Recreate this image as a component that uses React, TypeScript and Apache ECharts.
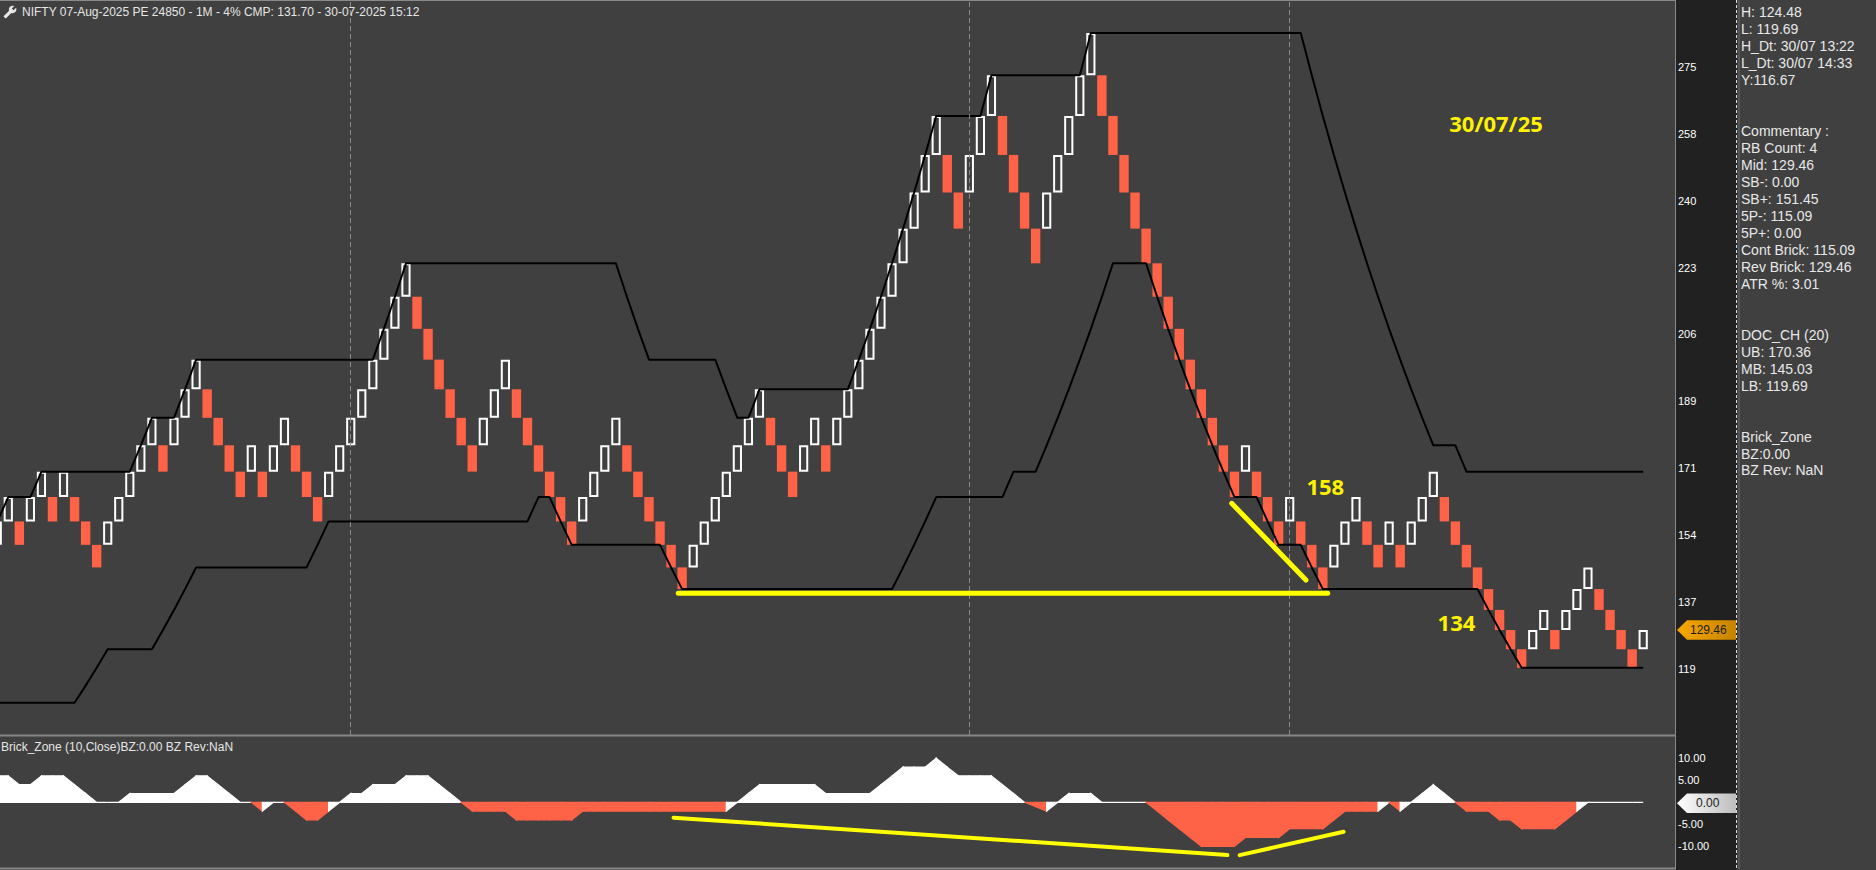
import React, { useEffect, useRef } from 'react';
import * as echarts from 'echarts';

// ---------------- data ----------------
// Renko price levels (4% bricks), from 110.66 up to 283.65
const priceLevels = [110.66, 115.09, 119.69, 124.48, 129.46, 134.64, 140.02, 145.62, 151.45, 157.5, 163.8, 170.36, 177.17, 184.26, 191.63, 199.29, 207.26, 215.55, 224.18, 233.14, 242.47, 252.17, 262.25, 272.75, 283.65];
// level index (into priceLevels) at which the first visible brick opens
const firstBrickOpen = 8;
// brick directions, U = white (up), D = red (down)
const brickDirs = (
  'UUDUUDUDDD' + 'UUUUUDUUUD' + 'DDDUDUUDDD' + 'UUUUUUUUDD' + 'DDDDUUUDDD' +
  'DDDUUUUDDD' + 'DDDUUUUUUU' + 'DDDUUDUUUU' + 'UUUUUUDDUU' + 'UDDDDUUUUU' +
  'DDDDDDDDDD' + 'DDDUDDDUDD' + 'DUUUDDUDUU' + 'UDDDDDDDDU' + 'UDUUUDDDDU'
).split('');
// DOC_CH (20) upper band, level index per brick
const upperBand = [
  9, 10, 10, 10, 11, 11, 11, 11, 11, 11,
  11, 11, 11, 12, 13, 13, 13, 14, 15, 15,
  15, 15, 15, 15, 15, 15, 15, 15, 15, 15,
  15, 15, 15, 15, 15, 16, 17, 18, 18, 18,
  18, 18, 18, 18, 18, 18, 18, 18, 18, 18,
  18, 18, 18, 18, 18, 18, 18, 17, 16, 15,
  15, 15, 15, 15, 15, 15, 14, 13, 13, 14,
  14, 14, 14, 14, 14, 14, 14, 14, 15, 16,
  17, 18, 19, 20, 21, 22, 22, 22, 22, 22,
  23, 23, 23, 23, 23, 23, 23, 23, 23, 24,
  24, 24, 24, 24, 24, 24, 24, 24, 24, 24,
  24, 24, 24, 24, 24, 24, 24, 24, 24, 23,
  22, 21, 20, 19, 18, 17, 16, 15, 14, 13,
  12, 12, 12, 11, 11, 11, 11, 11, 11, 11,
  11, 11, 11, 11, 11, 11, 11, 11, 11, 11,
];
// DOC_CH (20) lower band, level index per brick
const lowerBand = [
  0, 0, 0, 0, 0, 0, 0, 0, 1, 2,
  3, 3, 3, 3, 3, 4, 5, 6, 7, 7,
  7, 7, 7, 7, 7, 7, 7, 7, 7, 8,
  9, 9, 9, 9, 9, 9, 9, 9, 9, 9,
  9, 9, 9, 9, 9, 9, 9, 9, 9, 10,
  10, 9, 8, 8, 8, 8, 8, 8, 8, 8,
  8, 7, 6, 6, 6, 6, 6, 6, 6, 6,
  6, 6, 6, 6, 6, 6, 6, 6, 6, 6,
  6, 6, 7, 8, 9, 10, 10, 10, 10, 10,
  10, 10, 11, 11, 11, 12, 13, 14, 15, 16,
  17, 18, 18, 18, 18, 17, 16, 15, 14, 13,
  12, 11, 10, 10, 10, 9, 8, 8, 8, 7,
  6, 6, 6, 6, 6, 6, 6, 6, 6, 6,
  6, 6, 6, 6, 6, 5, 4, 3, 2, 2,
  2, 2, 2, 2, 2, 2, 2, 2, 2, 2,
];
// Brick_Zone (10, Close) per brick
const brickZone = [
  6, 6, 4, 4, 6, 6, 6, 4, 2, 0,
  0, 0, 2, 2, 2, 2, 2, 4, 6, 6,
  4, 2, 0, 0, -2, 0, 0, -2, -4, -4,
  -2, 0, 2, 2, 4, 4, 4, 6, 6, 6,
  4, 2, 0, -2, -2, -2, -2, -4, -4, -4,
  -4, -4, -4, -2, -2, -2, -2, -2, -2, -2,
  -2, -2, -2, -2, -2, -2, -2, 0, 2, 4,
  4, 4, 4, 4, 4, 2, 2, 2, 2, 2,
  4, 6, 8, 8, 8, 10, 8, 6, 6, 6,
  6, 4, 2, 0, -1, -2, 0, 2, 2, 2,
  0, 0, 0, 0, 0, -2, -4, -6, -8, -10,
  -10, -10, -10, -8, -8, -8, -8, -6, -6, -6,
  -6, -4, -2, -2, -2, -2, 0, -2, 0, 2,
  4, 2, 0, -2, -2, -2, -4, -4, -6, -6,
  -6, -6, -4, -2, 0, 0, 0, 0, 0, 0,
];
const daySeparators = [33, 89, 118];
const priceTicks = [119.45, 136.72, 153.99, 171.26, 188.53, 205.8, 223.07, 240.34, 257.61, 274.88];
const zoneTicks = [10, 5, -5, -10];
// hand-drawn yellow trend lines, [brick, value]
const mainTrendLines = [
  [[62.65, 138.93], [121.44, 138.93]],
  [[112.75, 162.18], [119.47, 142.36]],
];
const zoneTrendLines = [
  [[62.22, -3.5], [112.36, -12.0]],
  [[113.47, -12.0], [122.88, -6.7]],
];
const notes = [
  { text: '30/07/25', brick: 136.68, price: 260.35 },
  { text: '158', brick: 121.22, price: 166.65 },
  { text: '134', brick: 133.1, price: 131.44 },
];
const titleText = 'NIFTY 07-Aug-2025 PE 24850 - 1M - 4% CMP: 131.70 - 30-07-2025 15:12';
const zoneTitle = 'Brick_Zone (10,Close)BZ:0.00 BZ Rev:NaN';
const infoLines = [
  'H: 124.48', 'L: 119.69', 'H_Dt: 30/07 13:22', 'L_Dt: 30/07 14:33', 'Y:116.67', '', '',
  'Commentary :', 'RB Count: 4', 'Mid: 129.46', 'SB-: 0.00', 'SB+: 151.45', '5P-: 115.09', '5P+: 0.00',
  'Cont Brick: 115.09', 'Rev Brick: 129.46', 'ATR %: 3.01', '', '',
  'DOC_CH (20)', 'UB: 170.36', 'MB: 145.03', 'LB: 119.69', '', '',
  'Brick_Zone', 'BZ:0.00', 'BZ Rev: NaN',
];

// ---------------- shapes ----------------
const WRENCH_D = 'M22.7 19l-9.1-9.1c.9-2.3.4-5-1.5-6.9-2-2-5-2.4-7.4-1.3L9 6 6 9 1.6 4.7C.4 7.1.9 10.1 2.9 12.1c1.9 1.9 4.6 2.4 6.9 1.5l9.1 9.1c.4.4 1 .4 1.4 0l2.3-2.3c.5-.4.5-1.1.1-1.4z';
let wrenchRegistered = false;
function registerWrench() {
  if (wrenchRegistered) return;
  echarts.graphic.registerShape('wrench', echarts.graphic.extendPath(WRENCH_D, {}) as any);
  wrenchRegistered = true;
}

const RED = '#FF6347';
const FONT = '"Liberation Sans", Arial, sans-serif';
const X_MIN = 1.249;
const X_MAX = 152.88;

function buildBricks() {
  const out: number[][] = [];
  let pOpen = 0, pClose = 0, pDir = 0;
  brickDirs.forEach((ch, idx) => {
    const d = ch === 'U' ? 1 : -1;
    let o: number;
    if (idx === 0) o = firstBrickOpen;
    else if (d === pDir) o = pClose;
    else o = pOpen;
    const c = o + d;
    out.push([idx + 1, priceLevels[Math.max(o, c)], priceLevels[Math.min(o, c)], d]);
    pOpen = o; pClose = c; pDir = d;
  });
  return { bricks: out, lastClose: priceLevels[pClose] };
}

export default function App() {
  const ref = useRef<HTMLDivElement>(null);
  useEffect(() => {
    document.body.style.margin = '0';
    registerWrench();
    const chart = echarts.init(ref.current!, null, { renderer: 'svg' });
    const { bricks, lastClose } = buildBricks();

    const zoneSegs: number[][] = [];
    for (let i = 1; i < brickZone.length; i++) {
      zoneSegs.push([i, brickZone[i - 1], i + 1, brickZone[i]]);
    }

    const option: any = {
      animation: false,
      backgroundColor: '#404040',
      grid: [
        { left: 0, top: 0, width: 1675, height: 735 },
        { left: 0, top: 736, width: 1675, height: 132 },
      ],
      xAxis: [
        { type: 'value', gridIndex: 0, min: X_MIN, max: X_MAX, show: false },
        { type: 'value', gridIndex: 1, min: X_MIN, max: X_MAX, show: false },
      ],
      yAxis: [
        {
          type: 'value', gridIndex: 0, position: 'right', min: 102.33, max: 292.2,
          splitLine: { show: false }, axisLine: { show: false }, axisTick: { show: false },
          axisLabel: {
            customValues: priceTicks, formatter: (v: number) => String(Math.round(v)),
            color: '#ffffff', fontSize: 11, fontFamily: FONT, margin: 3,
          },
        },
        {
          type: 'value', gridIndex: 1, position: 'right', min: -14.93, max: 15.07,
          splitLine: { show: false }, axisLine: { show: false }, axisTick: { show: false },
          axisLabel: {
            customValues: zoneTicks, formatter: (v: number) => v.toFixed(2),
            color: '#ffffff', fontSize: 11, fontFamily: FONT, margin: 3,
          },
        },
      ],
      series: [
        {
          type: 'custom', name: 'bricks', xAxisIndex: 0, yAxisIndex: 0, clip: true, z: 3,
          encode: { x: 0, y: [1, 2] },
          data: bricks,
          renderItem: (_p: any, api: any) => {
            const i = api.value(0), top = api.value(1), bot = api.value(2), d = api.value(3);
            const a = api.coord([i, top]);
            const b = api.coord([i, bot]);
            if (d > 0) {
              return {
                type: 'rect',
                shape: { x: a[0] - 3.6, y: a[1] + 1, width: 7.2, height: b[1] - a[1] - 2 },
                style: { fill: 'rgba(0,0,0,0)', stroke: '#ffffff', lineWidth: 2 },
              };
            }
            return {
              type: 'rect',
              shape: { x: a[0] - 4.7, y: a[1], width: 9.4, height: b[1] - a[1] },
              style: { fill: RED },
            };
          },
        },
        {
          type: 'line', name: 'UB', xAxisIndex: 0, yAxisIndex: 0, z: 4, symbol: 'none', silent: true,
          data: upperBand.map((k, idx) => [idx + 1, priceLevels[k]]),
          lineStyle: { color: '#000000', width: 2 },
          markLine: {
            silent: true, symbol: ['none', 'none'], label: { show: false },
            lineStyle: { color: '#8a8a8a', width: 1, type: [5, 3] },
            data: daySeparators.map((x) => ({ xAxis: x })),
          },
        },
        {
          type: 'line', name: 'LB', xAxisIndex: 0, yAxisIndex: 0, z: 4, symbol: 'none', silent: true,
          data: lowerBand.map((k, idx) => [idx + 1, priceLevels[k]]),
          lineStyle: { color: '#000000', width: 2 },
        },
        ...mainTrendLines.map((seg) => ({
          type: 'line', xAxisIndex: 0, yAxisIndex: 0, z: 6, symbol: 'none', silent: true,
          data: seg, lineStyle: { color: '#FFFF00', width: 5, cap: 'round' },
        })),
        {
          type: 'custom', name: 'zone', xAxisIndex: 1, yAxisIndex: 1, clip: true, z: 3,
          encode: { x: [0, 2], y: [1, 3] },
          data: zoneSegs,
          renderItem: (_p: any, api: any) => {
            const x0 = api.value(0), v0 = api.value(1), x1 = api.value(2), v1 = api.value(3);
            const a = api.coord([x0, v0]);
            const b = api.coord([x1, v1]);
            const c = api.coord([x1, 0]);
            const d = api.coord([x0, 0]);
            const col = v1 >= 0 ? '#ffffff' : RED;
            return {
              type: 'polygon',
              shape: { points: [a, b, c, d] },
              style: { fill: col, stroke: col, lineWidth: 1.2 },
            };
          },
        },
        ...zoneTrendLines.map((seg) => ({
          type: 'line', xAxisIndex: 1, yAxisIndex: 1, z: 6, symbol: 'none', silent: true,
          data: seg, lineStyle: { color: '#FFFF00', width: 4, cap: 'round' },
        })),
      ],
    };
    chart.setOption(option);

    const tagY = chart.convertToPixel({ yAxisIndex: 0 } as any, lastClose) as number;
    const zeroY = chart.convertToPixel({ yAxisIndex: 1 } as any, 0) as number;
    const notePx = notes.map((n) => chart.convertToPixel({ gridIndex: 0 } as any, [n.brick, n.price]) as number[]);

    const tag = (y: number, c0: string, c1: string, label: string, tx: number) => ({
      type: 'group', z: 20,
      children: [
        {
          type: 'polygon',
          shape: { points: [[1677, y], [1687, y - 9.7], [1736, y - 9.7], [1736, y + 9.7], [1687, y + 9.7]] },
          style: { fill: new echarts.graphic.LinearGradient(0, 0, 1, 0, [{ offset: 0, color: c0 }, { offset: 1, color: c1 }]) },
        },
        { type: 'text', x: tx, y, style: { text: label, fill: '#1c1c1c', font: `12px ${FONT}`, verticalAlign: 'middle' } },
      ],
    });

    const graphics: any[] = [
      { type: 'rect', z: -1, shape: { x: 1676, y: 0, width: 61, height: 870 }, style: { fill: '#212121' } },
      { type: 'line', z: 1, shape: { x1: 0, y1: 0.5, x2: 1676, y2: 0.5 }, style: { stroke: '#8a8a8a', lineWidth: 1 } },
      { type: 'line', z: 1, shape: { x1: 1675.5, y1: 0, x2: 1675.5, y2: 869 }, style: { stroke: '#8a8a8a', lineWidth: 1 } },
      { type: 'line', z: 1, shape: { x1: 0, y1: 735.5, x2: 1676, y2: 735.5 }, style: { stroke: '#858585', lineWidth: 2 } },
      { type: 'line', z: 1, shape: { x1: 0, y1: 868.5, x2: 1676, y2: 868.5 }, style: { stroke: '#858585', lineWidth: 2 } },
      { type: 'line', z: 1, shape: { x1: 1736.5, y1: 0, x2: 1736.5, y2: 870 }, style: { stroke: '#dcdcdc', lineWidth: 1, lineDash: [3, 2] } },
      { type: 'line', z: 1, shape: { x1: 1739, y1: 0, x2: 1739, y2: 870 }, style: { stroke: '#6a6a6a', lineWidth: 1 } },
      { type: 'wrench', z: 10, x: 17, y: 5, scaleX: -0.58, scaleY: 0.58, style: { fill: '#e8e8e8' } },
      { type: 'text', z: 10, x: 22, y: 12, style: { text: titleText, fill: '#e6e6e6', font: `12px ${FONT}`, verticalAlign: 'middle' } },
      { type: 'text', z: 10, x: 1, y: 746.5, style: { text: zoneTitle, fill: '#e6e6e6', font: `12px ${FONT}`, verticalAlign: 'middle' } },
      ...infoLines.map((t, n) => (t ? {
        type: 'text', z: 10, x: 1741, y: 12.3 + n * 16.97,
        style: { text: t, fill: '#e8e8e8', font: `14px ${FONT}`, verticalAlign: 'middle' },
      } : null)).filter(Boolean),
      ...notes.map((n, k) => ({
        type: 'text', z: 12, x: notePx[k][0], y: notePx[k][1],
        style: { text: n.text, fill: '#FFF200', font: `bold 22px "Open Sans", ${FONT}`, align: 'center', verticalAlign: 'middle' },
      })),
      tag(tagY, '#F8A800', '#C78300', lastClose.toFixed(2), 1690),
      tag(zeroY + 1, '#FFFFFF', '#BDBDBD', '0.00', 1696),
    ];
    chart.setOption({ graphic: graphics });

    return () => chart.dispose();
  }, []);
  return <div ref={ref} style={{ position: 'fixed', left: 0, top: 0, width: 1876, height: 870 }} />;
}
